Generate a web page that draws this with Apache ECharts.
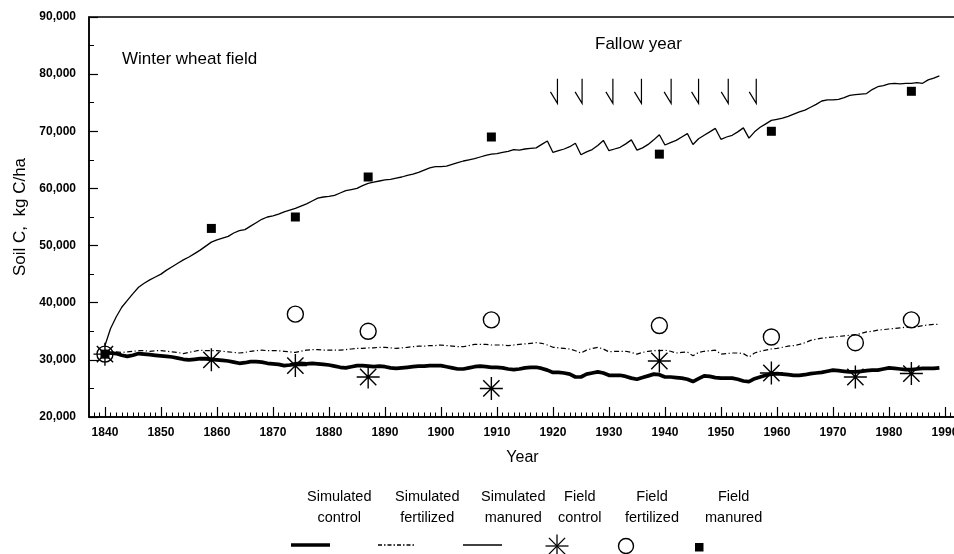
<!DOCTYPE html>
<html>
<head>
<meta charset="utf-8">
<script src="https://cdn.jsdelivr.net/npm/echarts@6/dist/echarts.min.js"></script>
<style>
html,body{margin:0;padding:0;background:#fff;}
#chart{width:954px;height:554px;}
</style>
</head>
<body>
<div id="chart"></div>
<script>
// ---- data ----
const startYear = 1840;
const simControl = [
31300,31200,31100,30800,30600,30800,31100,31000,30900,30800,
30700,30600,30500,30300,30100,30000,30100,30200,30200,30100,
30000,29900,29800,29600,29400,29500,29700,29700,29600,29400,
29300,29200,29000,29100,29300,29400,29300,29400,29300,29200,
29100,28900,28700,28600,28800,29000,29000,28900,28800,28900,
28800,28600,28500,28600,28700,28800,28900,28900,29000,29000,
29000,28800,28600,28400,28400,28600,28800,28900,28800,28700,
28700,28600,28400,28300,28400,28600,28700,28700,28500,28200,
27800,27800,27700,27500,27000,27000,27500,27700,27900,27700,
27300,27300,27300,27100,26800,26600,26900,27200,27500,27400,
27000,27000,26900,26800,26600,26200,26700,27200,27100,26900,
26800,26800,26800,26600,26300,26200,26700,27000,27300,27500,
27600,27500,27400,27300,27300,27400,27600,27700,27800,28000,
28200,28100,28000,27900,27900,28000,28100,28200,28200,28400,
28600,28500,28400,28300,28300,28400,28500,28500,28500,28600
];
const simFertilized = [
31700,31500,31400,31300,31400,31500,31600,31600,31500,31600,
31600,31500,31400,31300,31100,31300,31500,31700,31600,31600,
31600,31500,31400,31300,31200,31300,31500,31600,31700,31600,
31600,31600,31500,31400,31300,31500,31700,31800,31800,31700,
31700,31700,31700,31800,31900,32000,32000,32100,32100,32200,
32200,32100,32000,32100,32200,32300,32400,32400,32500,32500,
32600,32500,32400,32300,32300,32500,32700,32700,32700,32600,
32600,32600,32500,32600,32700,32800,32900,33000,32900,32600,
32200,32100,32000,31900,31600,31200,31700,32000,32200,31900,
31400,31500,31500,31500,31300,31000,31300,31500,31600,31600,
31700,31500,31200,31300,31400,30700,31300,31500,31600,31700,
31000,31100,31200,31200,31100,30500,31200,31500,31700,31900,
32000,32200,32400,32500,32700,33000,33400,33600,33800,33900,
34000,34100,34200,34300,34400,34600,34900,35000,35200,35300,
35400,35500,35600,35700,35700,35800,36000,36100,36200,36200
];
const simManured = [
32500,35500,37500,39200,40400,41600,42700,43400,44000,44500,
45000,45700,46300,46900,47500,48000,48600,49200,49900,50600,
51000,51300,51600,52200,52600,52800,53400,54000,54600,55000,
55200,55500,55900,56200,56500,56900,57300,57800,58300,58500,
58600,58800,59200,59600,59800,60000,60500,60900,61100,61300,
61500,61600,61800,62000,62300,62500,62800,63200,63600,63800,
63800,63900,64200,64500,64800,65000,65200,65500,65800,66000,
66100,66300,66500,66800,66700,66900,67000,67100,67700,68300,
66300,66600,66900,67300,67900,65900,66400,66800,67500,68400,
66600,66900,67200,67800,68500,66700,67100,67700,68500,69400,
67600,68000,68400,69000,69600,67700,68700,69300,69900,70500,
68600,69000,69300,69900,70600,68800,69900,70700,71300,71900,
72100,72300,72600,73000,73400,73700,74200,74700,75300,75500,
75500,75600,75900,76300,76400,76500,76600,77300,77800,78000,
78300,78400,78300,78400,78400,78500,78400,79000,79300,79700
];
const fieldYears      = [1840, 1859, 1874, 1887, 1909, 1939, 1959, 1974, 1984];
const fieldControl    = [31000, 30000, 29000, 27000, 25000, 29800, 27700, 27000, 27600];
const fieldFertilized = [31000, null, 38000, 35000, 37000, 36000, 34000, 33000, 37000];
const fieldManured    = [31000, 53000, 55000, 62000, 69000, 66000, 70000, null, 77000];
const fallowYears = [1920.8, 1925.2, 1930.7, 1935.8, 1941.1, 1946.0, 1951.3, 1956.3];
const fallowArrowTop = 79200, fallowArrowMid = 76900, fallowArrowBottom = 74900;
const xTickLabels = [1840,1850,1860,1870,1880,1890,1900,1910,1920,1930,1940,1950,1960,1970,1980,1990];
const yTickLabels = ['20,000','30,000','40,000','50,000','60,000','70,000','80,000','90,000'];
const legendNames = [['Simulated','control'],['Simulated','fertilized'],['Simulated','manured'],['Field','control'],['Field','fertilized'],['Field','manured']];

// ---- build ----
function pairs(arr){ return arr.map((v,i)=>[startYear+i, v]); }
function fpairs(arr){ return fieldYears.map((y,i)=>[y, arr[i]]).filter(p=>p[1]!=null); }
const minorTicks = [];
for (let y = 1838; y <= 1991; y++) if (y % 10 !== 0) minorTicks.push(y);

const FONT = 'Liberation Sans, Arial, sans-serif';
const STAR = 'path://M0,10L20,10M10,0L10,20M2.93,2.93L17.07,17.07M17.07,2.93L2.93,17.07';
const X_MIN = 1837.15, X_MAX = 1991.97;

const chart = echarts.init(document.getElementById('chart'), null, {renderer:'canvas'});

// legend graphic
const legCols = [307, 395, 481, 558, 625, 705];
const g = [];
legendNames.forEach((n,i)=>{
  g.push({type:'text', left: legCols[i], top: 486, style:{text:n[0]+'\n'+n[1], font:'14.5px '+FONT, fill:'#000', textAlign:'center', lineHeight:21}, z:100});
});
g.push({type:'line', shape:{x1:291,y1:545,x2:330,y2:545}, style:{stroke:'#000', lineWidth:3.5}});
g.push({type:'line', shape:{x1:378,y1:545,x2:415,y2:545}, style:{stroke:'#000', lineWidth:1.5, lineDash:[4,2,1.5,2]}});
g.push({type:'line', shape:{x1:463,y1:545,x2:502,y2:545}, style:{stroke:'#000', lineWidth:1.3}});
[[0,-11.5,0,11.5],[-11.5,0,11.5,0],[-8.1,-8.1,8.1,8.1],[8.1,-8.1,-8.1,8.1]].forEach(s=>{
  g.push({type:'line', shape:{x1:557+s[0],y1:546+s[1],x2:557+s[2],y2:546+s[3]}, style:{stroke:'#000', lineWidth:1.3}});
});
g.push({type:'circle', shape:{cx:626, cy:546, r:7.5}, style:{stroke:'#000', fill:'#fff', lineWidth:1.4}});
g.push({type:'rect', shape:{x:695, y:543, width:8.5, height:8.5}, style:{fill:'#000'}});
g.push({type:'text', left:122, top:51, style:{text:'Winter wheat field', font:'17px '+FONT, fill:'#000'}});
g.push({type:'text', left:595, top:36, style:{text:'Fallow year', font:'17px '+FONT, fill:'#000'}});

const option = {
  animation:false,
  backgroundColor:'#fff',
  grid:{left:89, right:-2, top:17, bottom:137, containLabel:false, outerBoundsMode:'none',
        show:true, borderColor:'#000', borderWidth:1.5, backgroundColor:'transparent'},
  xAxis:[{
    type:'value', min:X_MIN, max:X_MAX,
    axisLine:{lineStyle:{color:'#000', width:1.5}},
    axisTick:{inside:true, length:10, customValues:xTickLabels, lineStyle:{color:'#000', width:1.2}},
    axisLabel:{customValues:xTickLabels, color:'#000', fontFamily:FONT, fontSize:12, fontWeight:'bold', margin:10,
      hideOverlap:false, formatter:v=>String(Math.round(v))},
    splitLine:{show:false},
    name:'Year', nameLocation:'middle', nameGap:33,
    nameTextStyle:{color:'#000', fontFamily:FONT, fontSize:16}
  },{
    type:'value', min:X_MIN, max:X_MAX, position:'bottom',
    axisLine:{show:false},
    axisTick:{inside:true, length:4.5, customValues:minorTicks, lineStyle:{color:'#000', width:1}},
    axisLabel:{show:false},
    splitLine:{show:false}
  }],
  yAxis:{
    type:'value', min:20000, max:90000, interval:10000,
    axisLine:{show:true, lineStyle:{color:'#000', width:1.5}},
    axisTick:{show:true, inside:true, length:9, lineStyle:{color:'#000', width:1.2}},
    minorTick:{show:true, splitNumber:2, length:5, lineStyle:{color:'#000', width:1}},
    axisLabel:{color:'#000', fontFamily:FONT, fontSize:12, fontWeight:'bold', margin:13,
      formatter:v=>yTickLabels[Math.round((v-20000)/10000)]},
    splitLine:{show:false},
    name:'Soil C,  kg C/ha', nameLocation:'middle', nameRotate:90, nameGap:57,
    nameTextStyle:{color:'#000', fontFamily:FONT, fontSize:17}
  },
  graphic:g,
  series:[
    {name:'Simulated control', type:'line', data:pairs(simControl), showSymbol:false, symbol:'none',
     lineStyle:{color:'#000', width:3.7}, z:3},
    {name:'Simulated fertilized', type:'line', data:pairs(simFertilized), showSymbol:false, symbol:'none',
     lineStyle:{color:'#000', width:1.2, type:[5,2.5,1.2,2.5]}, z:3},
    {name:'Simulated manured', type:'line', data:pairs(simManured), showSymbol:false, symbol:'none',
     lineStyle:{color:'#000', width:1.3}, z:3},
    {name:'Field control', type:'scatter', data:fpairs(fieldControl), symbol:STAR, symbolSize:23,
     itemStyle:{color:'transparent', borderColor:'#000', borderWidth:1.4, opacity:1}, z:5},
    {name:'Field fertilized', type:'scatter', data:fpairs(fieldFertilized), symbol:'circle', symbolSize:16,
     itemStyle:{color:'transparent', borderColor:'#000', borderWidth:1.4, opacity:1}, z:5},
    {name:'Field manured', type:'scatter', data:fpairs(fieldManured), symbol:'rect', symbolSize:9,
     itemStyle:{color:'#000', opacity:1}, z:6},
    {name:'Fallow', type:'custom', data:fallowYears.map(y=>[y]), z:6, silent:true,
     renderItem:function(params, api){
       const x = api.value(0);
       const top = api.coord([x, fallowArrowTop]);
       const mid = api.coord([x, fallowArrowMid]);
       const bot = api.coord([x, fallowArrowBottom]);
       return {type:'polyline', shape:{points:[[bot[0]-7, mid[1]],[bot[0], bot[1]],[top[0], top[1]]]},
         style:{stroke:'#000', fill:null, lineWidth:1.2}};
     }}
  ]
};
chart.setOption(option);
</script>
</body>
</html>
